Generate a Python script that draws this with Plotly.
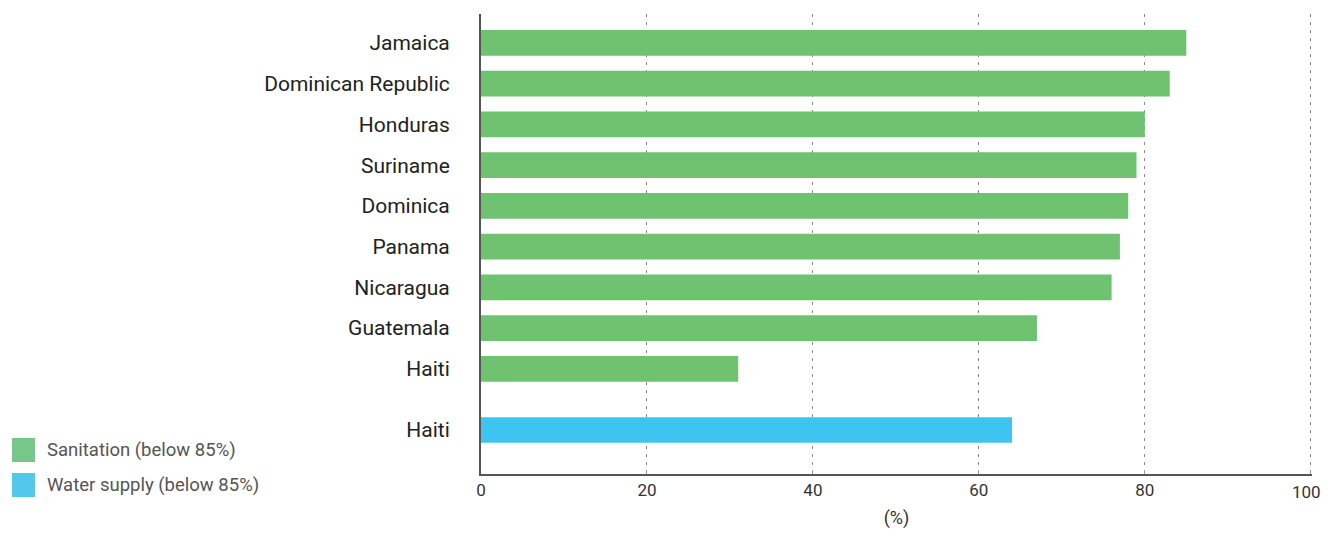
import plotly.graph_objects as go

san_countries = ["Jamaica", "Dominican Republic", "Honduras", "Suriname", "Dominica",
                 "Panama", "Nicaragua", "Guatemala", "Haiti"]
san_values = [85, 83, 80, 79, 78, 77, 76, 67, 31]
water_countries = ["Haiti"]
water_values = [64]
x_ticks = [0, 20, 40, 60, 80, 100]

san_pos = list(range(len(san_countries)))
water_pos = [len(san_countries) + 0.5 + i for i in range(len(water_countries))]

GREEN = "#6ec270"
BLUE = "#3ec4f0"

# page body has an 8px margin; figure sized to fit the window
W, H = 1314, 522
L, R, T, B = 473, 10, 6, 56
PW, PH = W - L - R, H - T - B

fig = go.Figure()
fig.add_trace(go.Bar(x=san_values, y=san_pos, orientation="h", marker=dict(color=GREEN, line=dict(width=0)),
                     width=0.63, name="Sanitation (below 85%)", showlegend=False, hoverinfo="x"))
fig.add_trace(go.Bar(x=water_values, y=water_pos, orientation="h", marker=dict(color=BLUE, line=dict(width=0)),
                     width=0.63, name="Water supply (below 85%)", showlegend=False, hoverinfo="x"))

fig.update_layout(
    width=W, height=H,
    margin=dict(l=L, r=R, t=T, b=B),
    paper_bgcolor="white", plot_bgcolor="white",
    font=dict(family="Roboto", color="#333"),
)
# last tick label sits at the page edge: drawn as an annotation kept inside the figure
tick_text = [str(v) for v in x_ticks[:-1]] + [""]
fig.update_xaxes(
    range=[0, 100.15], tickvals=x_ticks, ticktext=tick_text,
    showgrid=True, gridcolor="#8a8a8a", gridwidth=1, griddash="3px,5px",
    showline=True, linecolor="#555", linewidth=1.5,
    ticks="inside", ticklen=4, tickcolor="#999",
    tickfont=dict(family="Roboto", size=17, color="#333"),
    title=dict(text="(%)", font=dict(family="Roboto", size=18, color="#333"), standoff=12),
    zeroline=False, fixedrange=True,
)
fig.add_annotation(xref="paper", yref="paper", x=(W - L) / PW, y=1 - (484 - T) / PH,
                   text=str(x_ticks[-1]), showarrow=False, xanchor="right", yanchor="middle",
                   font=dict(family="Roboto", size=17, color="#333"), borderpad=0)
fig.update_yaxes(
    range=[10.58, -0.71], tickvals=san_pos + water_pos, ticktext=san_countries + water_countries,
    showgrid=False, zeroline=False,
    showline=True, linecolor="#555", linewidth=2,
    ticks="", ticklabelstandoff=25,
    tickfont=dict(family="Roboto", size=21, color="#222"),
)

legend_items = [("Sanitation (below 85%)", "#77c68a"), ("Water supply (below 85%)", "#52c8ea")]
for i, (label, col) in enumerate(legend_items):
    top = 430 + i * 35  # figure px
    fig.add_shape(type="rect", xref="paper", yref="paper",
                  x0=(4 - L) / PW, x1=(27 - L) / PW,
                  y0=1 - (top + 24 - T) / PH, y1=1 - (top - T) / PH,
                  fillcolor=col, line=dict(width=0), layer="above")
    fig.add_annotation(xref="paper", yref="paper", x=(37 - L) / PW, y=1 - (top + 12 - T) / PH,
                       text=label, showarrow=False, xanchor="left", yanchor="middle",
                       font=dict(family="Roboto", size=18.5, color="#555"))

fig.write_html("out.html", config={"displayModeBar": False})
